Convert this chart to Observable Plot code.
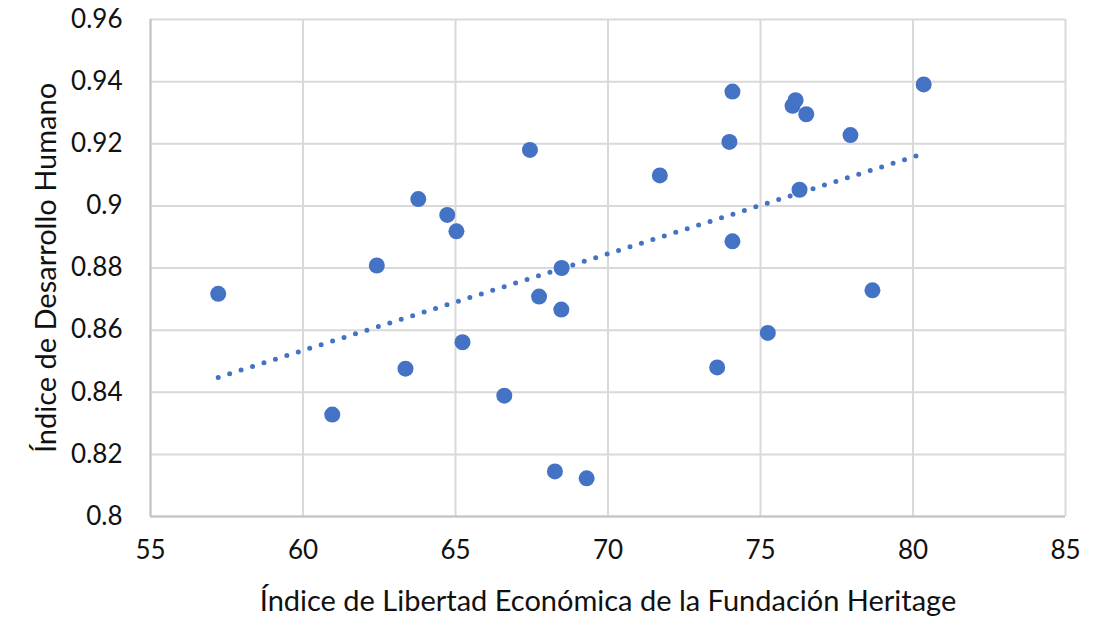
<!DOCTYPE html>
<html>
<head>
<meta charset="utf-8">
<script src="https://cdn.jsdelivr.net/npm/d3@7"></script>
<script src="https://cdn.jsdelivr.net/npm/@observablehq/plot@0.6"></script>
<style>
  html, body { margin: 0; padding: 0; background: #fff; }
</style>
</head>
<body>
<div id="chart"></div>
<script>
const libertad = [57.22, 60.96, 62.42, 63.36, 63.78, 64.73, 65.03, 65.23, 66.60, 67.44,
                  67.74, 68.26, 68.48, 68.47, 69.30, 71.70, 73.58, 73.98, 74.08, 74.08,
                  75.24, 76.05, 76.15, 76.28, 76.50, 77.95, 78.67, 80.35];
const idh = [0.8717, 0.8328, 0.8808, 0.8476, 0.9022, 0.8971, 0.8918, 0.8561, 0.8389, 0.9180,
             0.8708, 0.8145, 0.8800, 0.8666, 0.8123, 0.9098, 0.8480, 0.9206, 0.9368, 0.8886,
             0.8591, 0.9322, 0.9340, 0.9052, 0.9295, 0.9228, 0.8728, 0.9391];
const xTicks = [55, 60, 65, 70, 75, 80, 85];
const yTicks = [0.8, 0.82, 0.84, 0.86, 0.88, 0.9, 0.92, 0.94, 0.96];
const xLabel = "Índice de Libertad Económica de la Fundación Heritage";
const yLabel = "Índice de Desarrollo Humano";

const data = libertad.map((x, i) => ({x, y: idh[i]}));
const blue = "#4472C4";
const ink = "#111";

const chart = Plot.plot({
  width: 1112,
  height: 619,
  marginLeft: 150,
  marginRight: 47,
  marginTop: 19,
  marginBottom: 103,
  style: {fontFamily: "Lato, 'Open Sans', sans-serif", fontSize: "26px", color: ink, background: "#fff"},
  x: {domain: [55, 85], ticks: xTicks, label: null},
  y: {domain: [0.8, 0.96], ticks: yTicks, label: null, tickFormat: d => String(+d.toFixed(2))},
  marks: [
    Plot.gridX(xTicks, {stroke: "#d9d9d9", strokeOpacity: 1, strokeWidth: 2}),
    Plot.gridY(yTicks, {stroke: "#d9d9d9", strokeOpacity: 1, strokeWidth: 2}),
    Plot.ruleX([55], {stroke: "#c4c4c4", strokeWidth: 2}),
    Plot.ruleY([0.8], {stroke: "#c4c4c4", strokeWidth: 2}),
    Plot.axisX(xTicks, {tickSize: 0, tickPadding: 24, fontSize: 26}),
    Plot.axisY(yTicks, {tickSize: 0, tickPadding: 28, fontSize: 26, tickFormat: d => String(+d.toFixed(2))}),
    Plot.linearRegressionY(data, {x: "x", y: "y", ci: 0, stroke: blue, strokeWidth: 5, strokeDasharray: "0,12", strokeLinecap: "round"}),
    Plot.dot(data, {x: "x", y: "y", r: 8, fill: blue}),
    Plot.text([xLabel], {frameAnchor: "bottom", dy: 94, lineAnchor: "bottom", textAnchor: "middle", fontSize: 29, fill: ink, text: d => d}),
    Plot.text([yLabel], {frameAnchor: "left", dx: -95, rotate: -90, lineAnchor: "bottom", textAnchor: "middle", fontSize: 29, fill: ink, text: d => d})
  ]
});
document.getElementById("chart").appendChild(chart);
</script>
</body>
</html>
